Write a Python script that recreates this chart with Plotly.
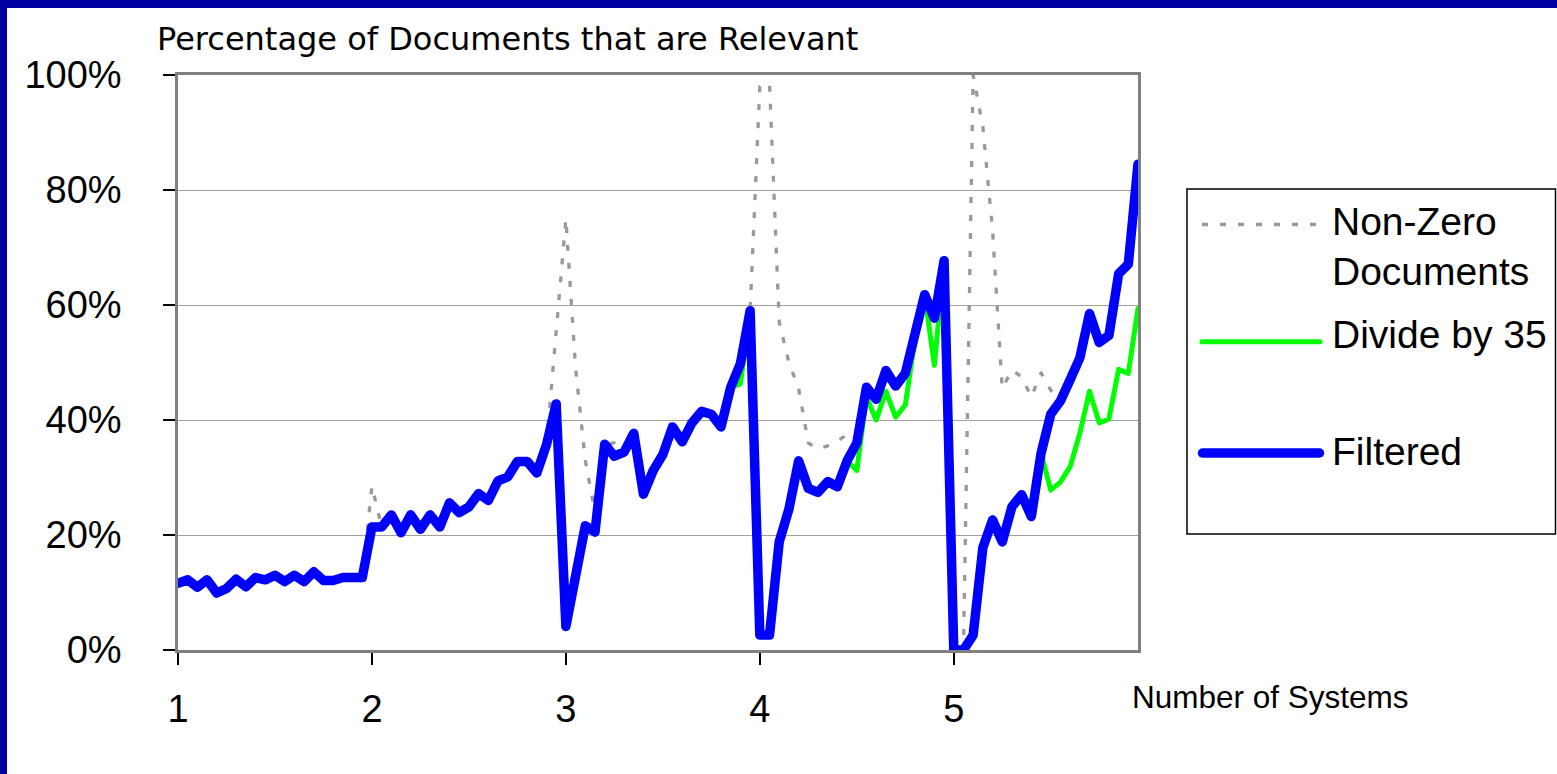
import plotly.graph_objects as go

# ---------------- data ----------------
systems = [1.00, 1.05, 1.10, 1.15, 1.20, 1.25, 1.30, 1.35, 1.40, 1.45,
           1.50, 1.55, 1.60, 1.65, 1.70, 1.75, 1.80, 1.85, 1.90, 1.95,
           2.00, 2.05, 2.10, 2.15, 2.20, 2.25, 2.30, 2.35, 2.40, 2.45,
           2.50, 2.55, 2.60, 2.65, 2.70, 2.75, 2.80, 2.85, 2.90, 2.95,
           3.00, 3.05, 3.10, 3.15, 3.20, 3.25, 3.30, 3.35, 3.40, 3.45,
           3.50, 3.55, 3.60, 3.65, 3.70, 3.75, 3.80, 3.85, 3.90, 3.95,
           4.00, 4.05, 4.10, 4.15, 4.20, 4.25, 4.30, 4.35, 4.40, 4.45,
           4.50, 4.55, 4.60, 4.65, 4.70, 4.75, 4.80, 4.85, 4.90, 4.95,
           5.00, 5.05, 5.10, 5.15, 5.20, 5.25, 5.30, 5.35, 5.40, 5.45,
           5.50, 5.55, 5.60, 5.65, 5.70, 5.75, 5.80, 5.85, 5.90, 5.95]

non_zero_documents = [
    11.6, 12.2, 10.9, 12.2, 9.9, 10.7, 12.3, 11.0, 12.6, 12.2,
    13.0, 11.9, 13.0, 11.9, 13.6, 12.1, 12.1, 12.6, 12.6, 12.6,
    28.5, 21.4, 23.5, 20.4, 23.5, 21.0, 23.5, 21.4, 25.6, 23.9,
    24.9, 27.2, 26.0, 29.4, 30.1, 32.8, 32.8, 30.8, 35.7, 55.0,
    75.0, 49.0, 33.0, 24.0, 35.8, 36.0, 34.4, 37.7, 27.1, 31.2,
    34.0, 38.8, 36.2, 39.5, 41.5, 41.0, 38.8, 45.7, 49.8, 59.0,
    98.0, 98.5, 57.0, 50.0, 45.5, 36.0, 35.0, 35.5, 36.3, 37.5,
    36.0, 45.7, 43.6, 48.6, 45.9, 48.1, 55.6, 61.8, 57.7, 67.7,
    0.0, 0.0, 100.0, 91.0, 73.0, 45.5, 48.7, 47.5, 44.0, 48.2,
    45.2, 43.3, 47.0, 50.8, 58.5, 53.5, 54.7, 65.4, 67.1, 84.5]

divide_by_35 = [
    11.6, 12.2, 10.9, 12.2, 9.9, 10.7, 12.3, 11.0, 12.6, 12.2,
    13.0, 11.9, 13.0, 11.9, 13.6, 12.1, 12.1, 12.6, 12.6, 12.6,
    21.6, 21.4, 23.5, 20.4, 23.5, 21.0, 23.5, 21.4, 25.6, 23.9,
    24.9, 27.2, 26.0, 29.4, 30.1, 32.8, 32.8, 30.8, 35.7, 42.3,
    4.1, 12.8, 21.6, 20.5, 35.8, 33.7, 34.4, 37.7, 27.1, 31.2,
    34.0, 38.8, 36.2, 39.5, 41.5, 41.0, 38.8, 45.7, 46.3, 59.0,
    2.6, 2.6, 18.8, 24.5, 32.9, 28.1, 27.4, 29.3, 28.6, 32.9,
    31.2, 44.0, 40.0, 45.0, 40.5, 42.6, 54.0, 61.8, 49.5, 67.7,
    0.0, 0.0, 2.6, 17.8, 23.0, 18.8, 25.2, 27.2, 23.2, 34.2,
    27.8, 29.2, 31.9, 37.7, 45.0, 39.5, 40.2, 48.8, 48.1, 59.4]

filtered = [
    11.6, 12.2, 10.9, 12.2, 9.9, 10.7, 12.3, 11.0, 12.6, 12.2,
    13.0, 11.9, 13.0, 11.9, 13.6, 12.1, 12.1, 12.6, 12.6, 12.6,
    21.4, 21.4, 23.5, 20.4, 23.5, 21.0, 23.5, 21.4, 25.6, 23.9,
    24.9, 27.2, 26.0, 29.4, 30.1, 32.8, 32.8, 30.8, 35.7, 42.8,
    4.1, 12.8, 21.6, 20.5, 35.8, 33.7, 34.4, 37.7, 27.1, 31.2,
    34.0, 38.8, 36.2, 39.5, 41.5, 41.0, 38.8, 45.7, 49.8, 59.0,
    2.6, 2.6, 18.8, 24.5, 32.9, 28.1, 27.4, 29.3, 28.4, 32.9,
    36.0, 45.7, 43.6, 48.6, 45.9, 48.1, 55.6, 61.8, 57.7, 67.7,
    0.0, 0.0, 2.6, 17.8, 22.6, 18.8, 24.9, 27.0, 23.2, 34.2,
    41.0, 43.3, 47.0, 50.8, 58.5, 53.5, 54.7, 65.4, 67.1, 84.5]

x_tick_vals = [1, 2, 3, 4, 5]
x_tick_text = ["1", "2", "3", "4", "5"]
y_tick_vals = [0, 20, 40, 60, 80, 100]
y_tick_text = ["0%", "20%", "40%", "60%", "80%", "100%"]

series_names = ["Non-Zero Documents", "Divide by 35", "Filtered"]
chart_title = "Percentage of Documents that are Relevant"
x_title = "Number of Systems"

# ---------------- layout geometry (pixels) ----------------
W, H = 1557, 774
PL, PR, PT, PB = 178, 1138, 75, 650   # plot area edges


def px2x(px):
    return (px - PL) / (PR - PL)


def py2y(py):
    return (PB - py) / (PB - PT)


GRAY = "#999999"
GREEN = "#00FF00"
BLUE = "#0000FF"
SANS = "Liberation Sans, Arial, sans-serif"

fig = go.Figure()
fig.add_trace(go.Scatter(x=systems, y=non_zero_documents, mode="lines",
                         name=series_names[0],
                         line=dict(color=GRAY, width=3.3, dash="6px,12px")))
fig.add_trace(go.Scatter(x=systems, y=divide_by_35, mode="lines",
                         name=series_names[1],
                         line=dict(color=GREEN, width=5)))
fig.add_trace(go.Scatter(x=systems, y=filtered, mode="lines",
                         name=series_names[2],
                         line=dict(color=BLUE, width=9.5)))

shapes = []
# slide frame (top & left dark-blue bars)
shapes.append(dict(type="rect", xref="paper", yref="paper",
                   x0=px2x(0), x1=px2x(W), y0=py2y(0), y1=py2y(8),
                   fillcolor="#0000A0", line=dict(width=0), layer="below"))
shapes.append(dict(type="rect", xref="paper", yref="paper",
                   x0=px2x(0), x1=px2x(7), y0=py2y(0), y1=py2y(H),
                   fillcolor="#0000A0", line=dict(width=0), layer="below"))
# legend box
shapes.append(dict(type="rect", xref="paper", yref="paper",
                   x0=px2x(1187), x1=px2x(1555.5), y0=py2y(189), y1=py2y(534),
                   line=dict(color="black", width=1.5), fillcolor="white"))
# legend samples
shapes.append(dict(type="line", xref="paper", yref="paper",
                   x0=px2x(1202), x1=px2x(1322), y0=py2y(224.5), y1=py2y(224.5),
                   line=dict(color=GRAY, width=3.3, dash="6px,12px")))
shapes.append(dict(type="line", xref="paper", yref="paper",
                   x0=px2x(1202), x1=px2x(1320), y0=py2y(341.7), y1=py2y(341.7),
                   line=dict(color=GREEN, width=5)))
shapes.append(dict(type="line", xref="paper", yref="paper",
                   x0=px2x(1202.5), x1=px2x(1319.5), y0=py2y(453), y1=py2y(453),
                   line=dict(color=BLUE, width=9.5)))

annotations = []


def add_text(text, px, py, size, family=SANS, xanchor="left"):
    annotations.append(dict(text=text, xref="paper", yref="paper",
                            x=px2x(px), y=py2y(py), xanchor=xanchor,
                            yanchor="middle", showarrow=False,
                            font=dict(family=family, size=size, color="black")))


add_text(chart_title, 155, 39, 32, family="DejaVu Sans, Verdana, sans-serif")
add_text(x_title, 1130, 697, 31.5)
add_text("Non-Zero", 1330, 221.5, 39)
add_text("Documents", 1330, 271.5, 39)
add_text("Divide by 35", 1330, 334.8, 39)
add_text("Filtered", 1330, 451.5, 39)

fig.update_layout(
    width=W, height=H,
    margin=dict(l=PL, r=W - PR, t=PT, b=H - PB, pad=0),
    paper_bgcolor="white", plot_bgcolor="white",
    showlegend=False,
    shapes=shapes, annotations=annotations,
    xaxis=dict(range=[1, 5.95], tickvals=x_tick_vals, ticktext=x_tick_text,
               ticks="outside", ticklen=12, tickwidth=1.5, tickcolor="black",
               showgrid=False, zeroline=False, showline=True,
               linecolor="#808080", linewidth=2.5, mirror=True,
               tickfont=dict(family=SANS, size=38, color="black"),
               ticklabelstandoff=12),
    yaxis=dict(range=[0, 100], tickvals=y_tick_vals, ticktext=y_tick_text,
               ticks="outside", ticklen=12, tickwidth=1.5, tickcolor="black",
               showgrid=True, gridcolor="#a0a0a0", gridwidth=1,
               zeroline=False, showline=True,
               linecolor="#808080", linewidth=2.5, mirror=True,
               tickfont=dict(family=SANS, size=38, color="black"),
               ticklabelstandoff=34),
)

post_script = """
document.documentElement.style.margin = '0';
document.documentElement.style.overflow = 'hidden';
document.body.style.margin = '0';
document.body.style.padding = '0';
document.body.style.overflow = 'hidden';
var gd = document.getElementById('{plot_id}');
function fixLines(){
  document.querySelectorAll('.js-line').forEach(function(p){
    p.style.strokeLinejoin = 'round';
    var d = p.style.strokeDasharray;
    if (!d || d === 'none' || d === '0') { p.style.strokeLinecap = 'round'; }
  });
  document.querySelectorAll('.shapelayer path').forEach(function(p){
    var d = p.style.strokeDasharray;
    if (!d || d === 'none' || d === '0') { p.style.strokeLinecap = 'round'; }
  });
}
fixLines();
if (gd && gd.on) { gd.on('plotly_afterplot', fixLines); }
"""

fig.write_html("out.html", post_script=post_script,
               config={"displayModeBar": False})
